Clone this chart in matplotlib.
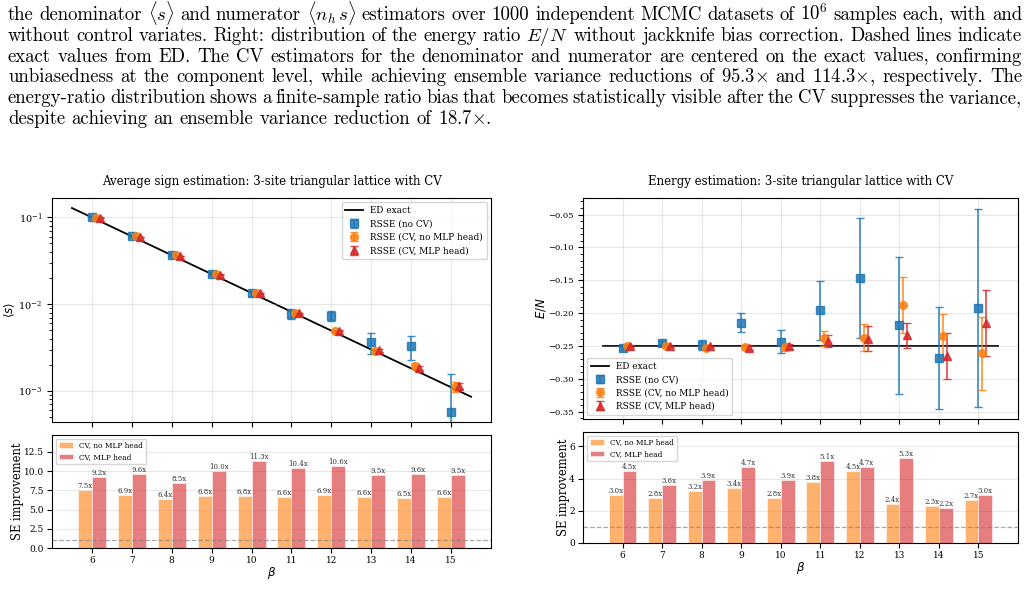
import numpy as np
import matplotlib
matplotlib.use('Agg')
import matplotlib.pyplot as plt
from matplotlib.ticker import AutoMinorLocator

plt.rcParams['font.family'] = 'DejaVu Serif'
plt.rcParams['mathtext.fontset'] = 'dejavusans'

# ---- data ----
beta = np.array([6, 7, 8, 9, 10, 11, 12, 13, 14, 15])

# ED exact lines (endpoints)
beta_ed = [5.5, 15.5]
sign_ed = [0.128, 0.00086]
energy_ed = [-0.25, -0.25]

# average sign <s>
sign_nocv = [0.100, 0.0603, 0.0365, 0.0224, 0.0133, 0.00773, 0.00733, 0.00365, 0.00330, 0.000573]
sign_nocv_err = [0.0010, 0.0010, 0.0010, 0.0010, 0.0009, 0.0010, 0.0010, 0.0010, 0.0010, 0.00098]
sign_cv = [0.0995, 0.0605, 0.0366, 0.0221, 0.0134, 0.0080, 0.00497, 0.00287, 0.00193, 0.00112]
sign_cv_err = [0.00013, 0.00014, 0.00015, 0.00014, 0.00013, 0.00015, 0.00014, 0.00015, 0.00015, 0.00014]
sign_mlp = [0.0995, 0.0597, 0.0362, 0.0219, 0.0133, 0.0079, 0.00497, 0.00294, 0.00183, 0.00115]
sign_mlp_err = [0.00011, 0.00010, 0.00012, 0.00010, 0.00008, 0.00010, 0.00009, 0.00010, 0.00010, 0.00010]

# energy E/N
en_nocv = [-0.2537, -0.2446, -0.2487, -0.2142, -0.2436, -0.1955, -0.1458, -0.2183, -0.2684, -0.1919]
en_nocv_err = [0.003, 0.003, 0.008, 0.0145, 0.0177, 0.0446, 0.0912, 0.104, 0.078, 0.151]
en_cv = [-0.2492, -0.2492, -0.2522, -0.2517, -0.2512, -0.2385, -0.2375, -0.1874, -0.2345, -0.2613]
en_cv_err = [0.001, 0.001, 0.002, 0.003, 0.0065, 0.012, 0.0205, 0.043, 0.034, 0.056]
en_mlp = [-0.2497, -0.2502, -0.2502, -0.2527, -0.2502, -0.2420, -0.2390, -0.2335, -0.2644, -0.2147]
en_mlp_err = [0.001, 0.001, 0.001, 0.003, 0.004, 0.009, 0.019, 0.019, 0.035, 0.0507]

# SE improvement factors
se_sign_cv = [7.5, 6.9, 6.4, 6.8, 6.8, 6.6, 6.9, 6.6, 6.5, 6.6]
se_sign_mlp = [9.2, 9.6, 8.5, 10.0, 11.3, 10.4, 10.6, 9.5, 9.6, 9.5]
se_en_cv = [3.0, 2.8, 3.2, 3.4, 2.8, 3.8, 4.5, 2.4, 2.3, 2.7]
se_en_mlp = [4.5, 3.6, 3.9, 4.7, 3.9, 5.1, 4.7, 5.3, 2.2, 3.0]

# no spaces inside math: lines are split into words on whitespace
caption_lines = [
    r"the denominator $\langle{s}\rangle$ and numerator $\langle{n_h}\,{s}\rangle$ estimators over 1000 independent MCMC datasets of $10^6$ samples each, with and",
    r"without control variates. Right: distribution of the energy ratio $E/N$ without jackknife bias correction. Dashed lines indicate",
    r"exact values from ED. The CV estimators for the denominator and numerator are centered on the exact values, confirming",
    r"unbiasedness at the component level, while achieving ensemble variance reductions of 95.3$\times$ and 114.3$\times$, respectively. The",
    r"energy-ratio distribution shows a finite-sample ratio bias that becomes statistically visible after the CV suppresses the variance,",
    r"despite achieving an ensemble variance reduction of 18.7$\times$.",
]

BLUE, ORANGE, RED = '#1f77b4', '#ff7f0e', '#d62728'
W, H = 1029, 604

fig = plt.figure(figsize=(W / 100, H / 100), dpi=100)


def px(x0, y0, x1, y1):
    return [x0 / W, 1 - y1 / H, (x1 - x0) / W, (y1 - y0) / H]


ax_s = fig.add_axes(px(52, 198, 491, 422))
ax_sb = fig.add_axes(px(52, 435, 491, 548))
ax_e = fig.add_axes(px(583, 198, 1018, 419))
ax_eb = fig.add_axes(px(583, 432, 1018, 543))

eb_kw = dict(ms=5.5, capsize=3, lw=1.2, alpha=0.85, ls='none')


def points(ax, ed, a, ae, b, be, c, ce, leg_loc):
    ax.plot(beta_ed, ed, color='black', lw=1.3, label='ED exact', zorder=1)
    ax.errorbar(beta, a, yerr=ae, fmt='s', color=BLUE, label='RSSE (no CV)', **eb_kw)
    ax.errorbar(beta + 0.1, b, yerr=be, fmt='o', color=ORANGE, label='RSSE (CV, no MLP head)', **eb_kw)
    ax.errorbar(beta + 0.2, c, yerr=ce, fmt='^', color=RED, label='RSSE (CV, MLP head)', **eb_kw)
    ax.set_xlim(5, 16)
    ax.set_xticks(beta)
    ax.tick_params(labelbottom=False, labelsize=6)
    ax.grid(True, alpha=0.3)
    ax.legend(loc=leg_loc, fontsize=6.4)


points(ax_s, sign_ed, sign_nocv, sign_nocv_err, sign_cv, sign_cv_err, sign_mlp, sign_mlp_err, 'upper right')
ax_s.set_yscale('log')
ax_s.set_ylim(4.4e-4, 0.167)
ax_s.tick_params(labelsize=7)
ax_s.set_ylabel(r'$\langle s\rangle$', fontsize=8.5)
ax_s.yaxis.set_label_coords(-0.080, 0.5)
ax_s.set_title('Average sign estimation: 3-site triangular lattice with CV', fontsize=8.5, pad=9)

points(ax_e, energy_ed, en_nocv, en_nocv_err, en_cv, en_cv_err, en_mlp, en_mlp_err, 'lower left')
ax_e.set_ylim(-0.361, -0.0247)
ax_e.yaxis.set_minor_locator(AutoMinorLocator(5))
ax_e.set_ylabel(r'$E/N$', fontsize=8.5)
ax_e.yaxis.set_label_coords(-0.080, 0.5)
ax_e.set_title('Energy estimation: 3-site triangular lattice with CV', fontsize=8.5, pad=9)


def bars(ax, cv, mlp, label_x):
    b1 = ax.bar(beta - 0.175, cv, 0.35, color=ORANGE, alpha=0.6, edgecolor='white', lw=0.6,
                label='CV, no MLP head')
    b2 = ax.bar(beta + 0.175, mlp, 0.35, color=RED, alpha=0.6, edgecolor='white', lw=0.6,
                label='CV, MLP head')
    for bs, vals in ((b1, cv), (b2, mlp)):
        for r, v in zip(bs, vals):
            ax.text(r.get_x() + r.get_width() / 2, v, f'{v:.1f}x', ha='center', va='bottom',
                    fontsize=5, color='#333333')
    ax.axhline(1.0, color='gray', ls='--', lw=0.9, alpha=0.7)
    ax.set_xlim(5, 16)
    ax.set_ylim(0, 1.3 * max(max(cv), max(mlp)))
    ax.set_xticks(beta)
    ax.tick_params(labelsize=6.5, pad=2.5)
    ax.grid(True, axis='y', alpha=0.3)
    ax.set_axisbelow(True)
    ax.set_xlabel(r'$\beta$', fontsize=8.5, labelpad=0)
    ax.set_ylabel('SE improvement', fontsize=8.3)
    ax.yaxis.set_label_coords(label_x, 0.5)
    ax.legend(loc='upper left', fontsize=5.3)


bars(ax_sb, se_sign_cv, se_sign_mlp, -0.064)
bars(ax_eb, se_en_cv, se_en_mlp, -0.030)

# caption text, justified to the page width
renderer = fig.canvas.get_renderer()
x_left, x_right = 8, 1022
cap_fs = 13.5
for i, line in enumerate(caption_lines):
    y = 1 - (20 + i * 20.8) / H
    words = line.split()
    arts = [fig.text(0, y, w, fontsize=cap_fs, family='cmr10', math_fontfamily='cm',
                     va='baseline', ha='left') for w in words]
    widths = [a.get_window_extent(renderer).width for a in arts]
    if i == len(caption_lines) - 1:
        gap = 0.33 * cap_fs * 100 / 72
    else:
        gap = (x_right - x_left - sum(widths)) / (len(words) - 1)
    x = x_left
    for a, w in zip(arts, widths):
        a.set_x(x / W)
        x += w + gap

fig.savefig('out.png', dpi=100)
